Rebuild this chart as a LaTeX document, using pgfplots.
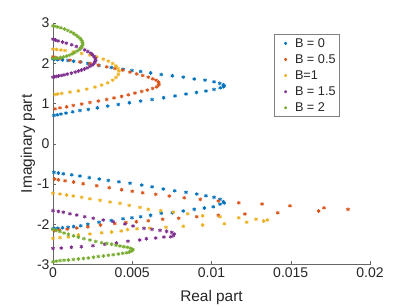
\documentclass[border=0pt]{standalone}
\usepackage{fontspec}
\setmainfont{Liberation Sans}
\usepackage{pgfplots}
\pgfplotsset{compat=1.18}
\definecolor{c1}{rgb}{0,0.447,0.741}
\definecolor{c2}{rgb}{0.85,0.325,0.098}
\definecolor{c3}{rgb}{0.929,0.694,0.125}
\definecolor{c4}{rgb}{0.494,0.184,0.556}
\definecolor{c5}{rgb}{0.466,0.674,0.188}
\definecolor{txt}{rgb}{0.15,0.15,0.15}
\begin{document}
\begin{tikzpicture}
\path[use as bounding box] (-53pt,-42.4pt) rectangle (356pt,264.6pt);
\begin{axis}[
  at={(0pt,0pt)}, anchor=south west,
  scale only axis, width=317pt, height=241.6pt,
  xmin=0, xmax=0.02, ymin=-3, ymax=3,
  clip=false,
  axis x line*=bottom, axis y line*=left,
  axis line style={-, black!60, line width=0.5pt},
  scaled x ticks=false, scaled y ticks=false,
  xtick={0,0.005,0.01,0.015,0.02},
  xticklabels={0,0.005,0.01,0.015,0.02},
  ytick={-3,-2,-1,0,1,2,3},
  yticklabels={-3,-2,-1,0,1,2,3},
  tick align=inside, major tick length=3.2pt,
  tick style={black!60, line width=0.5pt},
  ticklabel style={font=\fontsize{14}{16}\selectfont, text=txt},
  xlabel={Real part}, ylabel={Imaginary part},
  label style={font=\fontsize{15.4}{18}\selectfont, text=txt},
  xlabel style={at={(axis description cs:0.5,-0.135)}, anchor=center},
  ylabel style={at={(axis description cs:-0.079,0.5)}, anchor=center},
  legend style={at={(0.697,0.953)}, anchor=north west,
    font=\fontsize{12.7}{15}\selectfont, text=txt,
    draw=black!50, line width=0.5pt, row sep=2.6pt,
    nodes={inner sep=1pt, text height=9.5pt, text depth=2pt}},
  legend cell align=left,
  legend image code/.code={\path (0pt,0pt) (16pt,0pt); \draw[#1, mark size=1.4pt] plot coordinates {(8pt,0pt)};},
  every axis plot/.append style={only marks, mark=asterisk, mark size=1.9pt, line width=0.8pt},
]
\addplot[c1] coordinates {
(0.00006,0.705)(0.00027,0.72)(0.0005,0.737)(0.00082,0.762)(0.00124,0.794)(0.0017,0.828)(0.00223,0.853)(0.0028,0.893)(0.00345,0.935)(0.00412,0.977)(0.00482,1.02)(0.00553,1.06)(0.00625,1.10)(0.00698,1.145)(0.0077,1.19)(0.00839,1.235)(0.00905,1.275)(0.00965,1.31)(0.01016,1.35)(0.01055,1.39)(0.01075,1.42)(0.0108,1.44)(0.01075,1.465)(0.01052,1.50)(0.01016,1.54)(0.00959,1.58)(0.00891,1.61)(0.00822,1.655)(0.00753,1.69)(0.00683,1.72)(0.00616,1.76)(0.00553,1.795)(0.00498,1.82)(0.00442,1.85)(0.00368,1.895)(0.0029,1.945)(0.0022,1.995)(0.00175,2.03)(0.0013,2.05)(0.00095,2.07)(0.0006,2.08)(0.0003,2.09)(0.0001,2.1)(0,2.11)
(0.00006,-0.71)(0.00034,-0.727)(0.00065,-0.744)(0.00118,-0.77)(0.0017,-0.80)(0.00229,-0.84)(0.00292,-0.876)(0.00349,-0.91)(0.00416,-0.943)(0.00486,-0.98)(0.0056,-1.025)(0.00625,-1.067)(0.00696,-1.124)(0.00768,-1.166)(0.00839,-1.206)(0.00907,-1.248)(0.00965,-1.29)(0.01016,-1.33)(0.01054,-1.38)(0.01075,-1.44)(0.0108,-1.47)(0.01054,-1.50)(0.01011,-1.563)(0.00955,-1.595)(0.00891,-1.628)(0.00822,-1.67)(0.00753,-1.71)(0.00683,-1.727)(0.00616,-1.777)(0.00553,-1.81)(0.00498,-1.835)(0.00442,-1.86)(0.00368,-1.905)(0.0029,-1.95)(0.0022,-2.0)(0.00175,-2.035)(0.0013,-2.055)(0.00095,-2.075)(0.0006,-2.085)(0.0003,-2.095)(0.0001,-2.105)(0,-2.11)
};
\addlegendentry{B = 0}
\addplot[c2] coordinates {
(0.00013,0.868)(0.00044,0.893)(0.00086,0.918)(0.00128,0.953)(0.00181,0.985)(0.00233,1.027)(0.00286,1.06)(0.00339,1.10)(0.00385,1.141)(0.00433,1.176)(0.00475,1.216)(0.00517,1.258)(0.0056,1.30)(0.00595,1.333)(0.00629,1.375)(0.00654,1.414)(0.00667,1.457)(0.00668,1.495)(0.00665,1.531)(0.0065,1.58)(0.00629,1.613)(0.00601,1.655)(0.00566,1.697)(0.00528,1.737)(0.00486,1.779)(0.0044,1.829)(0.00391,1.871)(0.00339,1.911)(0.00286,1.953)(0.00233,1.995)(0.0017,2.035)(0.00107,2.077)(0.00044,2.119)(0.00013,2.144)(0,2.159)
(0.0001,-0.876)(0.00034,-0.893)(0.00076,-0.918)(0.0013,-0.95)(0.0019,-0.99)(0.00276,-1.04)(0.00355,-1.09)(0.00433,-1.14)(0.005,-1.18)(0.00566,-1.216)(0.00648,-1.256)(0.00734,-1.30)(0.00828,-1.34)(0.00929,-1.38)(0.01043,-1.42)(0.01172,-1.464)(0.01319,-1.496)(0.01495,-1.54)(0.0171,-1.59)(0.01861,-1.628)(0.01676,-1.67)(0.01418,-1.712)(0.01211,-1.744)(0.01043,-1.777)(0.00907,-1.81)(0.00793,-1.85)(0.00692,-1.876)(0.00601,-1.91)(0.00526,-1.935)(0.0046,-1.955)(0.0039,-1.98)(0.003,-2.02)(0.0022,-2.06)(0.0015,-2.09)(0.0009,-2.12)(0.0004,-2.14)(0.0001,-2.155)
};
\addlegendentry{B = 0.5}
\addplot[c3] coordinates {
(0.00013,1.226)(0.0003,1.237)(0.00055,1.251)(0.00107,1.283)(0.0016,1.315)(0.00213,1.357)(0.00265,1.407)(0.00307,1.457)(0.00345,1.514)(0.00377,1.58)(0.00397,1.648)(0.00412,1.722)(0.00416,1.804)(0.0041,1.871)(0.00397,1.935)(0.00377,1.995)(0.00349,2.052)(0.00317,2.102)(0.00276,2.159)(0.00233,2.201)(0.00181,2.243)(0.00128,2.283)(0.00076,2.318)(0.0005,2.33)(0.00023,2.342)(0,2.35)
(0,-1.23)(0.00044,-1.248)(0.00086,-1.273)(0.00128,-1.298)(0.00181,-1.33)(0.00233,-1.365)(0.00297,-1.405)(0.0036,-1.447)(0.00423,-1.48)(0.00481,-1.53)(0.00549,-1.58)(0.00601,-1.628)(0.0068,-1.66)(0.00759,-1.70)(0.0085,-1.737)(0.00944,-1.787)(0.01054,-1.81)(0.01172,-1.836)(0.01281,-1.876)(0.01352,-1.893)(0.01329,-1.918)(0.01222,-1.95)(0.01081,-1.985)(0.00944,-2.017)(0.00822,-2.05)(0.00713,-2.075)(0.0061,-2.095)(0.0053,-2.11)(0.0047,-2.13)(0.0043,-2.165)(0.0037,-2.19)(0.00307,-2.21)(0.00233,-2.24)(0.0016,-2.265)(0.00097,-2.31)(0.00044,-2.33)(0,-2.35)
};
\addlegendentry{B=1}
\addplot[c4] coordinates {
(0,1.655)(0.0001,1.665)(0.0002,1.675)(0.00035,1.685)(0.00052,1.697)(0.0007,1.712)(0.0009,1.73)(0.00116,1.754)(0.0014,1.78)(0.0016,1.805)(0.00179,1.829)(0.00198,1.855)(0.00215,1.885)(0.00232,1.921)(0.00245,1.95)(0.00255,1.985)(0.00263,2.02)(0.00268,2.05)(0.00269,2.084)(0.00266,2.125)(0.00259,2.169)(0.0025,2.21)(0.00238,2.25)(0.0022,2.29)(0.002,2.333)(0.00175,2.375)(0.00147,2.417)(0.00118,2.46)(0.00084,2.499)(0.0006,2.525)(0.00032,2.556)(0.00015,2.578)(0,2.598)
(0,-1.66)(0.00034,-1.68)(0.00065,-1.70)(0.00107,-1.737)(0.0015,-1.77)(0.002,-1.81)(0.00254,-1.85)(0.00317,-1.893)(0.0038,-1.935)(0.00454,-1.99)(0.00505,-2.04)(0.00574,-2.10)(0.00625,-2.125)(0.00675,-2.15)(0.00717,-2.175)(0.00749,-2.20)(0.00765,-2.24)(0.00759,-2.28)(0.00743,-2.31)(0.007,-2.315)(0.00648,-2.34)(0.00589,-2.357)(0.00547,-2.39)(0.00473,-2.42)(0.004,-2.464)(0.00326,-2.497)(0.00252,-2.53)(0.00179,-2.555)(0.00116,-2.57)(0.00052,-2.59)(0,-2.598)
};
\addlegendentry{B = 1.5}
\addplot[c5] coordinates {
(0,2.12)(0.00015,2.123)(0.0003,2.13)(0.00048,2.14)(0.00066,2.155)(0.00085,2.175)(0.00103,2.2)(0.0012,2.23)(0.00136,2.265)(0.00152,2.3)(0.00165,2.34)(0.00176,2.38)(0.00183,2.42)(0.00187,2.46)(0.00187,2.5)(0.00184,2.54)(0.00178,2.58)(0.0017,2.62)(0.00158,2.66)(0.00145,2.7)(0.0013,2.74)(0.00113,2.78)(0.00093,2.815)(0.00072,2.85)(0.0005,2.88)(0.0003,2.9)(0.00012,2.918)(0,2.93)
(0,-2.125)(0.0002,-2.15)(0.00044,-2.18)(0.0007,-2.215)(0.00097,-2.25)(0.0013,-2.285)(0.0016,-2.32)(0.00195,-2.355)(0.00233,-2.39)(0.0027,-2.425)(0.00307,-2.456)(0.0034,-2.475)(0.0037,-2.497)(0.00398,-2.52)(0.00423,-2.54)(0.00447,-2.555)(0.00469,-2.57)(0.00488,-2.595)(0.00503,-2.62)(0.00502,-2.64)(0.00497,-2.66)(0.00482,-2.685)(0.00465,-2.705)(0.0044,-2.72)(0.00412,-2.737)(0.0038,-2.753)(0.00349,-2.77)(0.00318,-2.785)(0.00286,-2.80)(0.00255,-2.818)(0.00223,-2.836)(0.00192,-2.848)(0.0016,-2.86)(0.00128,-2.873)(0.00097,-2.886)(0.0007,-2.893)(0.00044,-2.90)(0.0002,-2.915)(0,-2.93)
};
\addlegendentry{B = 2}
\end{axis}
\end{tikzpicture}
\end{document}
